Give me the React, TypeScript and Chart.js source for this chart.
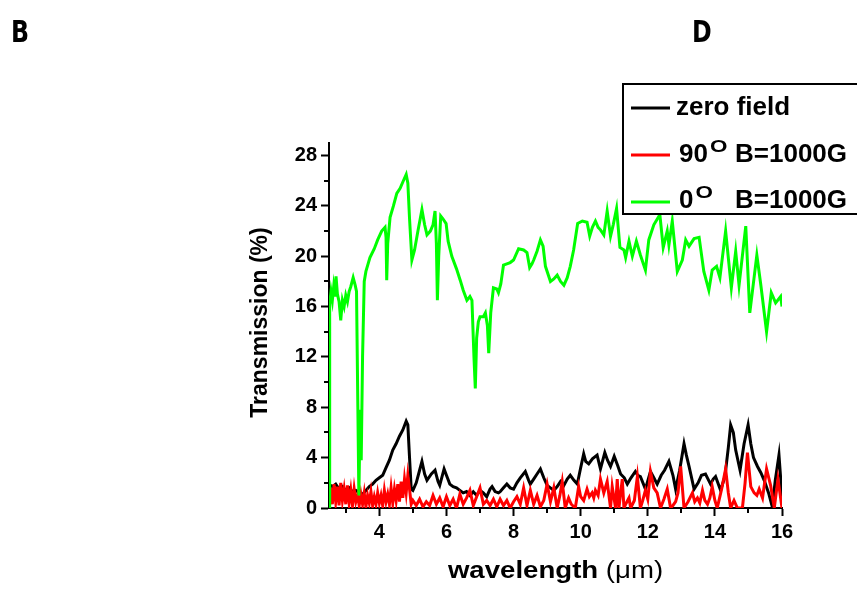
import React, { useEffect, useRef } from "react";
import { Chart, registerables } from "chart.js";

Chart.register(...registerables);

const FONT = '"Liberation Sans", Arial, Helvetica, sans-serif';

// ---- data (wavelength in µm, transmission in %) ----
const greenX = [
  2.5, 2.52, 2.56, 2.6, 2.64, 2.68, 2.71, 2.75, 2.8, 2.85, 2.9, 2.95, 3.0, 3.05, 3.1, 3.15, 3.22, 3.28, 3.32,
  3.36, 3.39, 3.43, 3.46, 3.5, 3.55, 3.6, 3.72, 3.85, 3.95, 4.07, 4.17, 4.2, 4.22, 4.25, 4.32, 4.42, 4.52,
  4.62, 4.7, 4.8, 4.85, 4.9, 4.97, 5.05, 5.15, 5.27, 5.35, 5.42, 5.52, 5.6, 5.66, 5.7, 5.73, 5.77, 5.83,
  5.89, 5.99, 6.05, 6.16, 6.3, 6.41, 6.5, 6.61, 6.7, 6.76, 6.82, 6.86, 6.9, 6.95, 7.0, 7.1, 7.16, 7.22,
  7.26, 7.32, 7.4, 7.5, 7.55, 7.62, 7.7, 7.8, 7.9, 8.0, 8.15, 8.3, 8.4, 8.48, 8.55, 8.6, 8.7, 8.8, 8.88,
  8.95, 9.1, 9.2, 9.3, 9.4, 9.5, 9.6, 9.69, 9.79, 9.91, 10.05, 10.19, 10.27, 10.35, 10.44, 10.52, 10.59,
  10.69, 10.79, 10.89, 10.97, 11.07, 11.17, 11.29, 11.34, 11.44, 11.54, 11.66, 11.78, 11.93, 12.03, 12.18,
  12.36, 12.46, 12.58, 12.63, 12.73, 12.88, 13.03, 13.13, 13.23, 13.38, 13.53, 13.67, 13.82, 13.92, 14.05,
  14.15, 14.32, 14.49, 14.62, 14.72, 14.92, 15.04, 15.25, 15.37, 15.54, 15.68, 15.81, 15.96, 16.0,
];
const greenY = [
  0.0, 16.2, 17.2, 16.5, 17.6, 16.8, 18.4, 17.0, 16.4, 14.9, 16.5, 16.0, 16.9, 16.4, 17.2, 17.6, 18.3, 17.7, 17.2,
  8.0, 1.0, 7.8, 3.8, 12.0, 18.0, 18.8, 19.9, 20.6, 21.3, 22.0, 22.3, 21.5, 18.1, 21.0, 23.1, 24.0, 25.0,
  25.4, 25.9, 26.5, 25.8, 23.0, 19.7, 20.5, 22.0, 23.7, 22.5, 21.7, 22.0, 22.5, 23.6, 21.0, 16.5, 20.0, 23.2,
  23.0, 22.6, 21.2, 20.0, 19.0, 18.1, 17.3, 16.5, 16.8, 16.5, 12.0, 9.5, 13.5, 14.8, 15.2, 15.2, 15.5, 14.5,
  12.3, 15.5, 17.5, 17.4, 17.1, 17.8, 19.3, 19.4, 19.5, 19.7, 20.6, 20.5, 20.3, 19.1, 19.4, 19.7, 20.4, 21.3, 20.8,
  19.2, 18.0, 18.2, 18.5, 18.0, 17.7, 18.3, 19.2, 20.5, 22.6, 22.8, 22.7, 21.6, 22.3, 22.8, 22.3, 22.1,
  21.7, 23.6, 21.6, 22.5, 23.8, 20.7, 20.5, 19.9, 21.2, 20.0, 21.2, 20.1, 18.9, 21.3, 22.5,
  23.3, 20.7, 22.0, 20.9, 22.8, 18.8, 19.7, 21.3, 20.8, 21.4, 21.5, 18.8, 17.3, 18.9, 19.2,
  18.3, 22.0, 17.5, 20.4, 17.7, 22.4, 15.5, 20.1, 17.7, 14.0, 17.1, 16.3, 16.8, 16.0,
];

const blackX = [
  2.5, 2.6, 2.7, 2.8, 2.9, 3.0, 3.1, 3.2, 3.3, 3.4, 3.5, 3.6, 3.7, 3.8, 3.9, 4.0, 4.1, 4.2, 4.3, 4.4, 4.5,
  4.6, 4.7, 4.8, 4.85, 4.9, 4.95, 5.0, 5.1, 5.2, 5.27, 5.35, 5.42, 5.55, 5.66, 5.75, 5.8, 5.93, 6.0, 6.1,
  6.2, 6.3, 6.4, 6.5, 6.6, 6.7, 6.8, 6.9, 7.0, 7.1, 7.2, 7.3, 7.36, 7.45, 7.55, 7.6, 7.7, 7.8, 7.9, 8.0,
  8.1, 8.2, 8.35, 8.45, 8.5, 8.6, 8.7, 8.8, 8.9, 9.0, 9.1, 9.2, 9.3, 9.4, 9.5, 9.6, 9.69, 9.8, 9.9, 10.0,
  10.09, 10.15, 10.24, 10.35, 10.49, 10.59, 10.72, 10.8, 10.89, 11.0, 11.1, 11.19, 11.3, 11.39, 11.5, 11.63,
  11.7, 11.78, 11.93, 12.08, 12.18, 12.28, 12.4, 12.5, 12.63, 12.75, 12.83, 12.95, 13.08, 13.15, 13.23,
  13.38, 13.5, 13.6, 13.72, 13.87, 13.95, 14.02, 14.17, 14.3, 14.4, 14.47, 14.55, 14.62, 14.75, 14.87,
  14.99, 15.07, 15.15, 15.27, 15.37, 15.47, 15.6, 15.71, 15.8, 15.91, 16.0,
];
const blackY = [
  1.9, 1.7, 1.9, 1.5, 1.7, 1.4, 1.6, 1.3, 1.4, 1.2, 1.1, 1.4, 1.7, 1.9, 2.2, 2.4, 2.6, 3.2, 3.8, 4.6, 5.1,
  5.7, 6.2, 6.9, 6.6, 4.0, 1.5, 1.4, 2.0, 3.0, 3.7, 2.7, 2.2, 2.7, 3.0, 2.1, 1.8, 3.1, 2.6, 1.9,
  1.7, 1.6, 1.4, 1.2, 1.3, 1.0, 1.3, 1.0, 1.4, 1.2, 0.9, 1.5, 1.7, 1.3, 1.2, 1.3, 1.6, 1.9, 1.6, 1.5,
  2.0, 2.4, 2.9, 2.2, 1.9, 2.3, 2.7, 3.1, 2.4, 1.8, 1.6, 1.4, 1.7, 2.1, 1.8, 2.3, 2.6, 2.2, 1.9, 3.2,
  4.3, 3.7, 3.5, 3.9, 4.2, 3.1, 4.4, 3.8, 3.3, 4.1, 3.4, 2.7, 2.4, 1.9, 2.4, 2.9,
  2.6, 2.5, 1.5, 2.9, 2.4, 1.9, 2.6, 3.0, 3.7, 2.6, 1.5, 3.0, 5.1, 4.2, 3.3,
  1.5, 2.0, 2.6, 2.7, 1.9, 2.3, 2.5, 1.4, 2.5, 4.8, 6.6, 6.0, 4.6, 3.0, 5.1,
  6.6, 5.1, 4.0, 3.3, 2.8, 2.2, 1.2, 0.1, 2.2, 4.2, 0.9,
];

const redX = [
  2.5, 2.55, 2.6, 2.65, 2.7, 2.75, 2.8, 2.85, 2.9, 2.95, 3.0, 3.05, 3.1, 3.15, 3.2, 3.25, 3.3, 3.35, 3.4, 3.45,
  3.5, 3.55, 3.6, 3.65, 3.7, 3.75, 3.8, 3.85, 3.9, 3.95, 4.0, 4.05, 4.1, 4.15, 4.2, 4.25, 4.3, 4.35, 4.4, 4.45,
  4.5, 4.55, 4.6, 4.65, 4.7, 4.75, 4.8, 4.85, 4.9, 4.95, 5.0,
  5.1, 5.2, 5.3, 5.4, 5.5, 5.6, 5.7, 5.8, 5.9, 6.0, 6.1, 6.2, 6.3, 6.4, 6.5, 6.6, 6.7, 6.8, 6.9, 7.0,
  7.1, 7.2, 7.3, 7.4, 7.5, 7.6, 7.7, 7.8, 7.9, 8.0, 8.1, 8.2, 8.3, 8.4, 8.5, 8.6, 8.7, 8.8, 8.9, 9.0,
  9.1, 9.2, 9.3, 9.38, 9.45, 9.54, 9.6, 9.64, 9.72, 9.84, 9.94, 10.0, 10.09, 10.19, 10.26, 10.34, 10.39,
  10.44, 10.52, 10.59, 10.69, 10.79, 10.89, 10.94, 11.04, 11.09, 11.14, 11.24, 11.29, 11.36, 11.44, 11.49,
  11.6, 11.69, 11.78, 11.85, 11.93, 12.0, 12.08, 12.18, 12.28, 12.38, 12.48, 12.58, 12.68, 12.75, 12.83,
  12.9, 12.98, 13.08, 13.2, 13.33, 13.4, 13.48, 13.55, 13.63, 13.7, 13.78, 13.85, 13.92, 14.0, 14.07, 14.2,
  14.32, 14.4, 14.47, 14.57, 14.67, 14.82, 14.9, 14.97, 15.07, 15.17, 15.25, 15.32, 15.42, 15.54, 15.66,
  15.77, 15.88, 16.0,
];
const redY = [
  0.0, 1.6, 0.3, 1.9, 0.5, 1.7, 0.2, 2.0, 0.6, 1.5, 0.3, 1.8, 0.4, 1.4, 0.2, 1.5, 0.5, 1.0, 0.2, 1.1,
  0.3, 1.2, 0.1, 1.0, 0.4, 1.3, 0.2, 0.9, 0.3, 1.2, 0.4, 1.0, 0.2, 1.4, 0.5, 1.1, 0.3, 1.6, 0.4, 1.5,
  0.6, 1.9, 0.5, 2.1, 0.8, 2.3, 1.2, 2.6, 1.5, 0.3, 0.6,
  0.2, 0.7, 0.1, 0.5, 0.2, 1.0, 0.3, 0.8, 0.1, 0.9, 0.2, 0.7, 0.0, 1.1, 0.3, 0.8, 1.4, 0.2, 0.9, 1.6,
  0.3, 0.6, 0.2, 0.7, 0.1, 0.7, 0.2, 0.6, 0.0, 0.5, 0.9, 0.3, 1.6, 0.2, 1.4, 0.3, 1.0, 0.1, 0.6, 1.9,
  0.5, 1.6, 0.0, 1.0, 2.1, 0.0, 0.5, 0.8, 0.3, 0.0, 1.7, 0.9, 0.6, 1.5, 0.9, 1.2, 0.8,
  1.4, 1.0, 2.3, 1.2, 2.1, 0.0, 1.7, 0.0, 2.3, 0.0, 2.3, 0.0, 0.4, 0.8, 0.0,
  0.6, 2.5, 0.0, 0.6, 1.4, 0.7, 2.9, 1.6, 1.2, 0.0, 0.7, 1.5, 0.0, 0.2, 0.5,
  1.2, 3.3, 0.0, 0.5, 1.2, 0.5, 0.8, 0.4, 1.4, 0.6, 0.3, 0.8, 1.7, 0.6, 0.0, 1.5,
  3.1, 1.2, 0.0, 0.6, 0.0, 0.0, 2.0, 4.4, 1.7, 1.2, 1.0, 1.5, 0.8, 3.1, 1.8,
  0.0, 2.3, 0.0,
];

const xTickValues = [4, 6, 8, 10, 12, 14, 16];
const xMinorValues = [3, 5, 7, 9, 11, 13, 15];
const yTickValues = [0, 4, 8, 12, 16, 20, 24, 28];
const yMinorValues = [2, 6, 10, 14, 18, 22, 26];

const seriesNames = ["zero field", "90", "0"];
const seriesSup = ["", "O", "O"];
const seriesTail = ["", "B=1000G", "B=1000G"];
const seriesColors = ["#000000", "#ff0000", "#00ff00"];

const xTitleMain = "wavelength";
const xTitleUnit = "(\u03bcm)";
const yTitle = "Transmission (%)";
const panelLeft = "B";
const panelRight = "D";

function pts(xs: number[], ys: number[]) {
  return xs.map((x, i) => ({ x, y: ys[i] }));
}

function drawScaledText(ctx: CanvasRenderingContext2D, text: string, x: number, y: number, font: string, sx: number) {
  ctx.save();
  ctx.font = font;
  ctx.translate(x, y);
  ctx.scale(sx, 1);
  ctx.fillText(text, 0, 0);
  const w = ctx.measureText(text).width * sx;
  ctx.restore();
  return w;
}

const decorPlugin = {
  id: "decor",
  afterDraw(chart: any) {
    const { ctx, chartArea, scales } = chart;
    const xs = scales.x;
    const ys = scales.y;
    ctx.save();
    ctx.strokeStyle = "#000";
    ctx.fillStyle = "#000";
    ctx.lineWidth = 2;
    // minor ticks
    ctx.beginPath();
    for (const v of xMinorValues) {
      const px = Math.round(xs.getPixelForValue(v));
      ctx.moveTo(px, chartArea.bottom);
      ctx.lineTo(px, chartArea.bottom + 5);
    }
    for (const v of yMinorValues) {
      const py = Math.round(ys.getPixelForValue(v));
      ctx.moveTo(chartArea.left, py);
      ctx.lineTo(chartArea.left - 5, py);
    }
    ctx.stroke();

    // x title
    ctx.textAlign = "left";
    ctx.textBaseline = "alphabetic";
    const boldF = `bold 23px ${FONT}`;
    const regF = `23px ${FONT}`;
    ctx.font = boldF;
    const w1 = ctx.measureText(xTitleMain + " ").width * 1.2;
    ctx.font = regF;
    const w2 = ctx.measureText(xTitleUnit).width * 1.2;
    const cx = (chartArea.left + chartArea.right) / 2;
    const startX = cx - (w1 + w2) / 2;
    drawScaledText(ctx, xTitleMain, startX, 578, boldF, 1.2);
    drawScaledText(ctx, xTitleUnit, startX + w1, 578, regF, 1.2);

    // y title
    ctx.save();
    ctx.translate(267, (chartArea.top + chartArea.bottom) / 2 - 3);
    ctx.rotate(-Math.PI / 2);
    ctx.font = `bold 23px ${FONT}`;
    ctx.textAlign = "center";
    ctx.fillText(yTitle, 0, 0);
    ctx.restore();

    // legend box
    ctx.fillStyle = "#fff";
    ctx.fillRect(623, 84, 260, 130);
    ctx.strokeStyle = "#000";
    ctx.lineWidth = 2;
    ctx.strokeRect(623, 84, 260, 130);
    const rowLine = [108, 155, 202];
    const rowBase = [115, 162, 208];
    for (let i = 0; i < seriesNames.length; i++) {
      ctx.strokeStyle = seriesColors[i];
      ctx.lineWidth = 3;
      ctx.beginPath();
      ctx.moveTo(631, rowLine[i]);
      ctx.lineTo(670, rowLine[i]);
      ctx.stroke();
      ctx.fillStyle = "#000";
      ctx.textAlign = "left";
      const nameX = i === 0 ? 676 : 679;
      const w = drawScaledText(ctx, seriesNames[i], nameX, rowBase[i], `bold 26px ${FONT}`, 1.0);
      if (seriesSup[i]) {
        drawScaledText(ctx, seriesSup[i], nameX + w + 2, rowBase[i] - 10, `bold 16px ${FONT}`, 1.4);
      }
      if (seriesTail[i]) {
        drawScaledText(ctx, seriesTail[i], 735, rowBase[i], `bold 26px ${FONT}`, 1.0);
      }
    }

    // panel letters
    ctx.fillStyle = "#000";
    const pf = `bold 31px "DejaVu Sans Condensed", "Liberation Sans Narrow", ${FONT}`;
    drawScaledText(ctx, panelLeft, 11, 42, pf, 0.85);
    drawScaledText(ctx, panelRight, 692, 42, pf, 0.85);
    ctx.restore();
  },
};

export default function App() {
  const ref = useRef<HTMLCanvasElement>(null);
  useEffect(() => {
    const canvas = ref.current;
    if (!canvas) return;
    const tickFont = { family: FONT, size: 20, weight: "bold" as const };
    const chart = new Chart(canvas, {
      type: "line",
      data: {
        datasets: [
          {
            label: seriesNames[0],
            data: pts(blackX, blackY),
            borderColor: seriesColors[0],
            borderWidth: 3,
            pointRadius: 0,
            tension: 0,
            order: 2,
          },
          {
            label: seriesNames[1],
            data: pts(redX, redY),
            borderColor: seriesColors[1],
            borderWidth: 3,
            pointRadius: 0,
            tension: 0,
            order: 1,
          },
          {
            label: seriesNames[2],
            data: pts(greenX, greenY),
            borderColor: seriesColors[2],
            borderWidth: 3,
            pointRadius: 0,
            tension: 0,
            order: 0,
          },
        ],
      },
      options: {
        responsive: false,
        animation: false,
        devicePixelRatio: 1,
        layout: { padding: { left: 249, top: 143, right: 75, bottom: 0 } },
        plugins: { legend: { display: false }, tooltip: { enabled: false } },
        scales: {
          x: {
            type: "linear",
            min: 2.5,
            max: 16,
            afterBuildTicks: (s: any) => {
              s.ticks = xTickValues.map((v) => ({ value: v }));
            },
            afterFit: (s: any) => {
              s.height = 82;
              s.paddingLeft = 0;
              s.paddingRight = 0;
            },
            ticks: { font: tickFont, color: "#000", padding: 4, maxRotation: 0, autoSkip: false },
            grid: { display: true, drawOnChartArea: false, drawTicks: true, tickLength: 8, tickWidth: 2, tickColor: "#000" },
            border: { display: true, color: "#000", width: 2 },
          },
          y: {
            type: "linear",
            min: 0,
            max: 29,
            afterBuildTicks: (s: any) => {
              s.ticks = yTickValues.map((v) => ({ value: v }));
            },
            afterFit: (s: any) => {
              s.width = 80;
              s.paddingTop = 0;
              s.paddingBottom = 0;
            },
            ticks: { font: tickFont, color: "#000", padding: 4, autoSkip: false },
            grid: { display: true, drawOnChartArea: false, drawTicks: true, tickLength: 8, tickWidth: 2, tickColor: "#000" },
            border: { display: true, color: "#000", width: 2 },
          },
        },
      },
      plugins: [decorPlugin],
    });
    return () => chart.destroy();
  }, []);
  return (
    <div style={{ position: "fixed", left: 0, top: 0, width: 857, height: 590, background: "#fff" }}>
      <canvas ref={ref} width={857} height={590} style={{ display: "block", width: 857, height: 590 }} />
    </div>
  );
}
